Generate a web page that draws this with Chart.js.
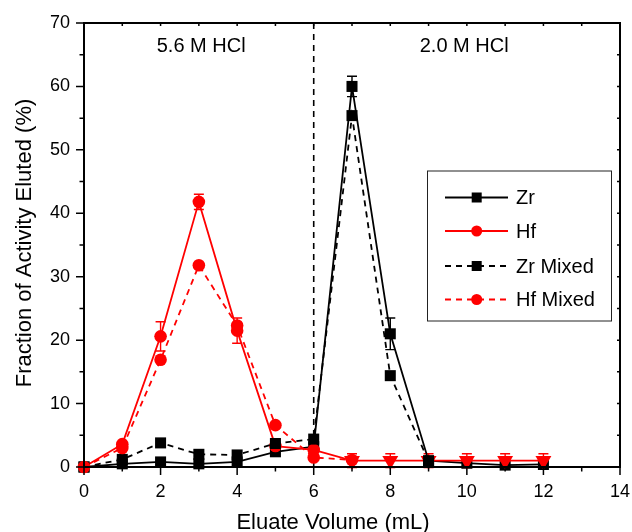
<!DOCTYPE html>
<html><head><meta charset="utf-8">
<script src="https://cdn.jsdelivr.net/npm/chart.js@4.4.0/dist/chart.umd.min.js"></script>
<style>html,body{margin:0;padding:0;background:#fff;}</style>
</head><body>
<canvas id="c" width="632" height="532"></canvas>
<script>
// ---- data ----
const volumes   = [0, 1, 2, 3, 4, 5, 6, 7, 8, 9, 10, 11, 12];
const zr        = [0, 0.5, 0.8, 0.5, 0.8, 2.4, 3.2, 60.0, 21.0, 1.0, 0.6, 0.3, 0.4];
const zrErr     = [0, 0, 0, 0, 0, 0, 0, 1.6, 2.5, 0.4, 0, 0, 0];
const hf        = [0, 3.6, 20.6, 41.8, 21.5, 3.3, 2.7, 1.0, 1.0, 1.0, 1.0, 1.0, 1.0];
const hfErr     = [0, 0, 2.3, 1.2, 2.0, 0, 0.8, 1.1, 1.1, 1.1, 1.1, 1.1, 1.1];
const zrMixed   = [0, 1.2, 3.8, 2.0, 1.9, 3.7, 4.4, 55.4, 14.4, 0.9];
const hfMixed   = [0, 3.0, 16.9, 31.8, 22.3, 6.6, 1.5, 1.1];
const xTicks    = [0, 2, 4, 6, 8, 10, 12, 14];
const yTicks    = [0, 10, 20, 30, 40, 50, 60, 70];
const dividerAt = 6;
const regionLabels = [{text: '5.6 M HCl', at: 3.06}, {text: '2.0 M HCl', at: 9.93}];
const xTitle = 'Eluate Volume (mL)';
const yTitle = 'Fraction of Activity Eluted (%)';

const FONT = "'Liberation Sans', Arial, Helvetica, sans-serif";
const pts = (ys) => ys.map((v, i) => ({x: volumes[i], y: v}));
const hfStyles = volumes.map((v, i) => i === 0 ? 'rect' : (i >= 7 ? 'triangle' : 'circle'));
const hfRot = volumes.map((v, i) => i >= 7 ? 180 : 0);
const hfRad = volumes.map((v, i) => i === 0 ? 7 : (i >= 7 ? 9.2 : 6.3));

const datasets = [
  {label: 'Hf Mixed', data: pts(hfMixed), borderColor: '#ff0000', backgroundColor: '#ff0000',
   borderWidth: 1.8, borderDash: [6, 5], pointStyle: 'circle', pointRadius: 6.3, pointBorderWidth: 0,
   legendMarker: 'circle', legendIndex: 3},
  {label: 'Zr Mixed', data: pts(zrMixed), borderColor: '#000000', backgroundColor: '#000000',
   borderWidth: 1.8, borderDash: [6, 5], pointStyle: 'rect', pointRadius: 7.8, pointBorderWidth: 0,
   legendMarker: 'rect', legendIndex: 2},
  {label: 'Hf', data: pts(hf), errors: hfErr, borderColor: '#ff0000', backgroundColor: '#ff0000',
   borderWidth: 1.8, pointStyle: hfStyles, pointRotation: hfRot, pointRadius: hfRad, pointBorderWidth: 0,
   legendMarker: 'circle', legendIndex: 1},
  {label: 'Zr', data: pts(zr), errors: zrErr, borderColor: '#000000', backgroundColor: '#000000',
   borderWidth: 1.8, pointStyle: 'rect', pointRadius: 7.8, pointBorderWidth: 0,
   legendMarker: 'rect', legendIndex: 0}
];

const decor = {
  id: 'decor',
  beforeDatasetsDraw(chart) {
    const {ctx, chartArea: a, scales: {x, y}} = chart;
    ctx.save();
    const px = x.getPixelForValue(dividerAt);
    ctx.strokeStyle = '#000'; ctx.lineWidth = 1.6; ctx.setLineDash([6, 5]);
    ctx.beginPath(); ctx.moveTo(px, a.top); ctx.lineTo(px, a.bottom); ctx.stroke();
    ctx.setLineDash([]);
    chart.data.datasets.forEach(ds => {
      if (!ds.errors) return;
      ctx.strokeStyle = ds.borderColor; ctx.lineWidth = 1.4;
      ds.data.forEach((p, i) => {
        const e = ds.errors[i];
        if (!e) return;
        const cx = x.getPixelForValue(p.x);
        const t = y.getPixelForValue(p.y + e), b = y.getPixelForValue(p.y - e);
        ctx.beginPath();
        ctx.moveTo(cx, t); ctx.lineTo(cx, b);
        ctx.moveTo(cx - 5, t); ctx.lineTo(cx + 5, t);
        ctx.moveTo(cx - 5, b); ctx.lineTo(cx + 5, b);
        ctx.stroke();
      });
    });
    ctx.restore();
  },
  afterDraw(chart) {
    const {ctx, chartArea: a, scales: {x, y}} = chart;
    ctx.save();
    // frame
    ctx.strokeStyle = '#000'; ctx.lineWidth = 2;
    ctx.strokeRect(a.left, a.top, a.right - a.left, a.bottom - a.top);
    ctx.lineWidth = 1.5;
    ctx.beginPath();
    for (let v = 0; v <= 14; v += 1) {
      const px = x.getPixelForValue(v);
      const major = v % 2 === 0;
      ctx.moveTo(px, a.bottom); ctx.lineTo(px, a.bottom + (major ? 8 : 4.5));
      ctx.moveTo(px, a.top); ctx.lineTo(px, a.top + 3);
    }
    for (let v = 0; v <= 70; v += 5) {
      const py = y.getPixelForValue(v);
      const major = v % 10 === 0;
      ctx.moveTo(a.left, py); ctx.lineTo(a.left - (major ? 8 : 4.5), py);
      ctx.moveTo(a.right, py); ctx.lineTo(a.right - 3, py);
    }
    ctx.stroke();
    // axis titles
    ctx.fillStyle = '#000';
    ctx.font = '22px ' + FONT;
    ctx.textAlign = 'center'; ctx.textBaseline = 'alphabetic';
    ctx.fillText(xTitle, 333, 529);
    ctx.save();
    ctx.translate(31, 243); ctx.rotate(-Math.PI / 2);
    ctx.fillText(yTitle, 0, 0);
    ctx.restore();
    // region labels
    ctx.font = '20px ' + FONT; ctx.textBaseline = 'middle';
    regionLabels.forEach(r => ctx.fillText(r.text, x.getPixelForValue(r.at), 46));
    // legend
    const bx = 427.5, by = 171, bw = 184, bh = 150;
    ctx.fillStyle = '#fff'; ctx.fillRect(bx, by, bw, bh);
    ctx.strokeStyle = '#222'; ctx.lineWidth = 1; ctx.strokeRect(bx, by, bw, bh);
    const rows = [197.5, 231, 266, 299.5];
    const ordered = chart.data.datasets.slice().sort((p, q) => p.legendIndex - q.legendIndex);
    ordered.forEach((ds, k) => {
      const ry = rows[k];
      ctx.strokeStyle = ds.borderColor; ctx.lineWidth = 1.8;
      ctx.setLineDash(ds.borderDash || []);
      ctx.beginPath(); ctx.moveTo(445, ry); ctx.lineTo(508, ry); ctx.stroke();
      ctx.setLineDash([]);
      ctx.fillStyle = ds.backgroundColor;
      if (ds.legendMarker === 'rect') ctx.fillRect(476.7 - 5, ry - 5, 10, 10);
      else { ctx.beginPath(); ctx.arc(476.7, ry, 5.5, 0, Math.PI * 2); ctx.fill(); }
      ctx.fillStyle = '#000'; ctx.font = '20px ' + FONT;
      ctx.textAlign = 'left'; ctx.textBaseline = 'middle';
      ctx.fillText(ds.label, 516, ry + 1);
    });
    ctx.restore();
  }
};

new Chart(document.getElementById('c'), {
  type: 'line',
  data: {datasets},
  options: {
    responsive: false, animation: false,
    clip: false,
    layout: {padding: {top: 23, right: 12, left: 0, bottom: 0}},
    plugins: {legend: {display: false}, tooltip: {enabled: false}},
    scales: {
      x: {type: 'linear', min: 0, max: 14,
        afterFit: s => { s.height = 65; s.paddingLeft = 0; s.paddingRight = 0; },
        afterBuildTicks: s => { s.ticks = xTicks.map(v => ({value: v})); },
        ticks: {color: '#000', font: {size: 18, family: FONT}, padding: 6, maxRotation: 0},
        grid: {display: false}, border: {display: false}},
      y: {type: 'linear', min: 0, max: 70,
        afterFit: s => { s.width = 84; s.paddingTop = 0; s.paddingBottom = 0; },
        afterBuildTicks: s => { s.ticks = yTicks.map(v => ({value: v})); },
        ticks: {color: '#000', font: {size: 18, family: FONT}, padding: 6},
        grid: {display: false}, border: {display: false}}
    }
  },
  plugins: [decor]
});
</script>
</body></html>
